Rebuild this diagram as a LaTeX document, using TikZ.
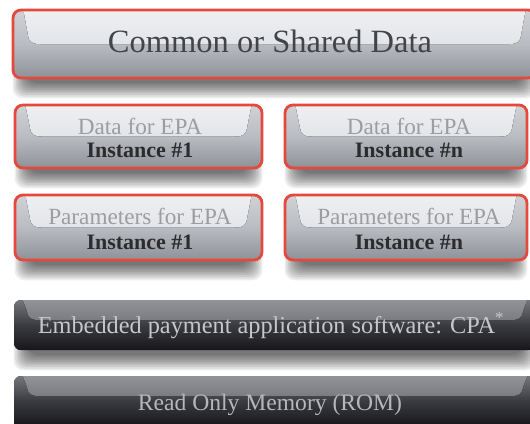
\documentclass[tikz,border=0pt]{standalone}
\usepackage{fontspec}
\setmainfont{Liberation Serif}
\definecolor{redline}{HTML}{E5483D}
\definecolor{lbTop}{HTML}{D0D2D5}
\definecolor{lbMid}{HTML}{B9BCC1}
\definecolor{lbBot}{HTML}{8E9197}
\definecolor{lgTop}{HTML}{EFF0F2}
\definecolor{lgBot}{HTML}{E3E5E8}
\definecolor{dbTop}{HTML}{74767B}
\definecolor{dbMid}{HTML}{3A3B40}
\definecolor{dbBot}{HTML}{17161B}
\definecolor{dgTop}{HTML}{939599}
\definecolor{dgBot}{HTML}{7A7C81}
\definecolor{commonc}{HTML}{434447}
\definecolor{grayc}{HTML}{9B9DA0}
\definecolor{boldc}{HTML}{2C2C2E}
\definecolor{cpac}{HTML}{C5C7CB}
\definecolor{romc}{HTML}{B5B7BB}
\tikzset{
  commontxt/.style={anchor=base, inner sep=0pt, text=commonc, font=\fontsize{32.5}{32.5}\selectfont},
  graytxt/.style={anchor=base, inner sep=0pt, text=grayc, font=\fontsize{23.2}{23.2}\selectfont},
  boldtxt/.style={anchor=base, inner sep=0pt, text=boldc, font=\fontsize{22}{22}\selectfont\bfseries},
  cpatxt/.style={anchor=base, inner sep=0pt, text=cpac, font=\fontsize{24.3}{24.3}\selectfont},
  romtxt/.style={anchor=base, inner sep=0pt, text=romc, font=\fontsize{23.6}{23.6}\selectfont},
  redframe/.style={draw=redline, line width=2.8pt, rounded corners=8pt},
}
\newcommand\boxshadow[4]{%
  \foreach \k in {0,...,9}{%
    \fill[black, opacity=0.07, rounded corners=10pt]
      ({#1+14-1.6*\k},{#4-22+0.6*\k}) rectangle ({#3-14+1.6*\k},{#4+5+1.7*\k});
  }}
\newcommand\lightbox[4]{%
  \boxshadow{#1}{#2}{#3}{#4}%
  \pgfmathsetmacro\yg{#2+0.5*(#4-#2)}%
  \begin{scope}
    \clip[rounded corners=8pt] (#1,#2) rectangle (#3,#4);
    \fill[top color=lbTop, bottom color=lbBot, middle color=lbMid] (#1,#2) rectangle (#3,#4);
    \fill[top color=lgTop, bottom color=lgBot]
      ({#1+10},{#2-2}) -- ({#1+15},{\yg-9})
      .. controls ({#1+16},{\yg-2}) and ({#1+19},{\yg}) .. ({#1+27},{\yg})
      -- ({#3-27},{\yg})
      .. controls ({#3-19},{\yg}) and ({#3-16},{\yg-2}) .. ({#3-15},{\yg-9})
      -- ({#3-10},{#2-2}) -- cycle;
  \end{scope}
  \draw[redframe] (#1,#2) rectangle (#3,#4);
}
\newcommand\darkbox[4]{%
  \boxshadow{#1}{#2}{#3}{#4}%
  \pgfmathsetmacro\yg{#2+20}%
  \begin{scope}
    \clip[rounded corners=7pt] (#1,#2) rectangle (#3,#4);
    \fill[top color=dbTop, bottom color=dbBot, middle color=dbMid] (#1,#2) rectangle (#3,{#2+50});
    \fill[dbBot] (#1,{#2+49}) rectangle (#3,#4);
    \fill[top color=dgTop, bottom color=dgBot]
      ({#1+8},{#2-2}) -- ({#1+13},{\yg-9})
      .. controls ({#1+14},{\yg-2}) and ({#1+17},{\yg}) .. ({#1+25},{\yg})
      -- ({#3-25},{\yg})
      .. controls ({#3-17},{\yg}) and ({#3-14},{\yg-2}) .. ({#3-13},{\yg-9})
      -- ({#3-8},{#2-2}) -- cycle;
  \end{scope}
}
\begin{document}
\begin{tikzpicture}[x=1pt,y=-1pt]
\useasboundingbox (0,0) rectangle (530,423);
\clip (0,0) rectangle (530,423);
\fill[white] (0,0) rectangle (530,423);
\lightbox{13}{10}{536}{78}
\lightbox{15}{105}{262}{168}
\lightbox{285}{105}{527}{168}
\lightbox{15}{195}{262}{260}
\lightbox{285}{195}{527}{260}
\darkbox{14}{300}{536}{350}
\darkbox{14}{376}{536}{440}
\node[commontxt] (common) at (270,52) {Common or Shared Data};
\node[graytxt] (d1a) at (140,134) {Data for EPA};
\node[boldtxt] (d1b) at (140,157) {Instance \#1};
\node[graytxt] (dna) at (409,134) {Data for EPA};
\node[boldtxt] (dnb) at (409,157) {Instance \#n};
\node[graytxt] (p1a) at (140,224) {Parameters for EPA};
\node[boldtxt] (p1b) at (140,249) {Instance \#1};
\node[graytxt] (pna) at (409,224) {Parameters for EPA};
\node[boldtxt] (pnb) at (409,249) {Instance \#n};
\node[cpatxt] (cpa) at (271,333) {Embedded payment application software: CPA\textsuperscript{*}};
\node[romtxt] (rom) at (270,410) {Read Only Memory (ROM)};
\end{tikzpicture}
\end{document}
